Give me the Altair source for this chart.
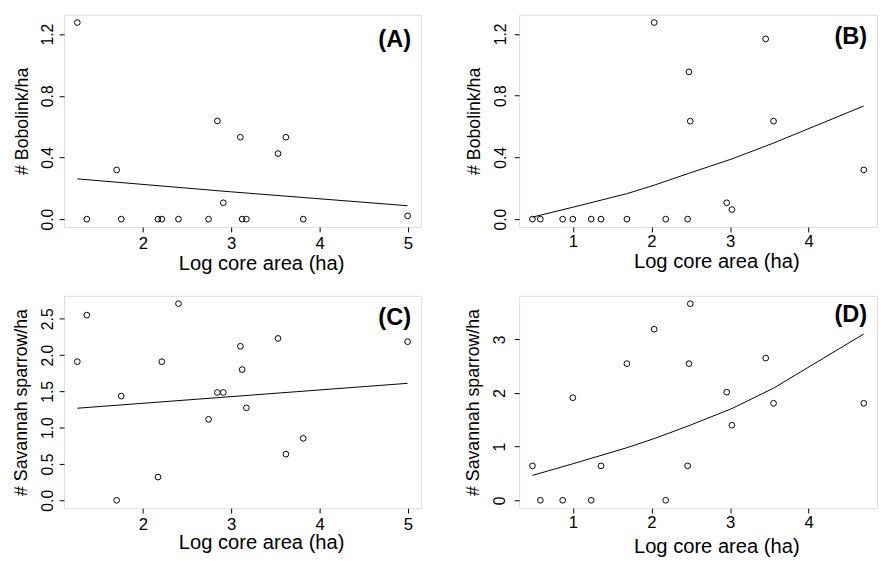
import altair as alt
import pandas as pd

# ---- data ----
x_left = [1.259, 1.367, 1.704, 1.756, 2.172, 2.215, 2.404, 2.744, 2.844, 2.911,
          3.104, 3.124, 3.172, 3.530, 3.619, 3.815, 4.996]
bobolink_left = [1.275, 0, 0.319, 0, 0, 0, 0, 0, 0.637, 0.106,
                 0.531, 0, 0, 0.425, 0.531, 0, 0.021]
sparrow_left = [1.909, 2.55, 0, 1.435, 0.32, 1.909, 2.708, 1.115, 1.485, 1.485,
                2.121, 1.80, 1.273, 2.229, 0.636, 0.853, 2.184]

x_right = [0.487, 0.587, 0.871, 1.0, 1.234, 1.359, 1.688, 2.035, 2.181, 2.460,
           2.477, 2.494, 2.957, 3.023, 3.453, 3.553, 4.700]
bobolink_right = [0, 0, 0, 0, 0, 0, 0, 1.274, 0, 0,
                  0.954, 0.635, 0.106, 0.062, 1.168, 0.635, 0.319]
sparrow_right = [0.641, 0, 0, 1.912, 0, 0.641, 2.547, 3.189, 0, 0.641,
                 2.547, 3.665, 2.016, 1.399, 2.651, 1.808, 1.808]

fit_a_x = [1.259, 3.0, 4.996]
fit_a_y = [0.261, 0.177, 0.087]
fit_c_x = [1.259, 4.996]
fit_c_y = [1.268, 1.611]
fit_bd_x = [0.487, 1.0, 1.688, 2.035, 2.494, 3.023, 3.553, 4.700]
fit_b_y = [0.013, 0.077, 0.165, 0.22, 0.30, 0.39, 0.493, 0.733]
fit_d_y = [0.464, 0.68, 0.98, 1.15, 1.40, 1.71, 2.09, 3.10]

FONT = "Liberation Sans"
XTITLE = "Log core area (ha)"


def panel(xs, ys, fx, fy, xdom, ydom, xticks, yticks, ylabels, yfmt, ytitle,
          letter, width, height, ylab_pad, ytitle_x, xlab_pad, xtitle_y,
          letter_y):
    pts = pd.DataFrame({"x": xs, "y": ys})
    fit = pd.DataFrame({"x": fx, "y": fy})
    lab_list = "[" + ",".join("'" + s + "'" for s in ylabels) + "]"
    yexpr = ("indexof(%s, format(datum.value, '%s')) >= 0 ? format(datum.value, '%s') : ''"
             % (lab_list, yfmt, yfmt))
    xaxis = alt.Axis(values=xticks, format="d", grid=False, domain=False,
                     tickSize=5, tickColor="black", labelColor="black",
                     labelFont=FONT, labelFontSize=17, labelPadding=xlab_pad,
                     labelBaseline="top", labelFlush=False, labelOverlap=False,
                     title=XTITLE, titleFont=FONT, titleFontSize=20.5,
                     titleFontWeight="normal", titleColor="black",
                     titleBaseline="alphabetic", titleAlign="center",
                     titleX=200.5, titleY=xtitle_y)
    yaxis = alt.Axis(values=yticks, labelExpr=yexpr, grid=False, domain=False,
                     tickSize=5, tickColor="black", labelColor="black",
                     labelFont=FONT, labelFontSize=16, labelPadding=ylab_pad,
                     labelAngle=270, labelAlign="center",
                     labelBaseline="alphabetic", labelFlush=False,
                     labelOverlap=False,
                     title=ytitle, titleFont=FONT, titleFontSize=18,
                     titleFontWeight="normal", titleColor="black",
                     titleAngle=270, titleAlign="center",
                     titleBaseline="alphabetic", titleX=ytitle_x,
                     titleY=height / 2)
    xenc = alt.X("x:Q", scale=alt.Scale(domain=xdom, nice=False, zero=False),
                 axis=xaxis)
    yenc = alt.Y("y:Q", scale=alt.Scale(domain=ydom, nice=False, zero=False),
                 axis=yaxis)
    points = alt.Chart(pts).mark_point(shape="circle", filled=False,
                                       color="black", size=34,
                                       strokeWidth=1, opacity=1).encode(
        x=xenc, y=yenc)
    line = alt.Chart(fit).mark_line(color="black", strokeWidth=1).encode(
        x="x:Q", y="y:Q")
    txt = alt.Chart(pd.DataFrame({"t": [letter]})).mark_text(
        font=FONT, fontSize=24, fontWeight="bold", align="right",
        baseline="alphabetic", color="black").encode(
        text="t:N", x=alt.value(width - 10), y=alt.value(letter_y))
    return alt.layer(points, line, txt).properties(width=width, height=height)


W_L, W_R, H = 363, 364, 216

pA = panel(x_left, bobolink_left, fit_a_x, fit_a_y, [1.109, 5.146],
           [-0.051, 1.326], [2, 3, 4, 5],
           [0, 0.2, 0.4, 0.6, 0.8, 1.0, 1.2], ["0.0", "0.4", "0.8", "1.2"],
           ".1f", "# Bobolink/ha", "(A)", W_L, H, 7, -37, 4, 43, 33)
pC = panel(x_left, sparrow_left, fit_c_x, fit_c_y, [1.109, 5.146],
           [-0.108, 2.816], [2, 3, 4, 5],
           [0, 0.5, 1.0, 1.5, 2.0, 2.5],
           ["0.0", "0.5", "1.0", "1.5", "2.0", "2.5"],
           ".1f", "# Savannah sparrow/ha", "(C)", W_L, H, 7, -38, 4, 41, 29.5)
pB = panel(x_right, bobolink_right, fit_bd_x, fit_b_y, [0.318, 4.869],
           [-0.051, 1.325], [1, 2, 3, 4],
           [0, 0.2, 0.4, 0.6, 0.8, 1.0, 1.2], ["0.0", "0.4", "0.8", "1.2"],
           ".1f", "# Bobolink/ha", "(B)", W_R, H, 9, -40, 2, 41, 30)
pD = panel(x_right, sparrow_right, fit_bd_x, fit_d_y, [0.318, 4.869],
           [-0.147, 3.812], [1, 2, 3, 4],
           [0, 1, 2, 3], ["0", "1", "2", "3"],
           "d", "# Savannah sparrow/ha", "(D)", W_R, H, 9.5, -41, 2, 45, 27)

chart = alt.concat(pA, pB, pC, pD, columns=2,
                   spacing={"row": 70, "column": 100}, bounds="flush").properties(
    padding={"left": 4, "top": 1, "right": 0, "bottom": 0}
).configure_view(stroke="#333333", strokeWidth=1).configure(
    background="white")

chart.save("out.html", embed_options={"renderer": "svg", "actions": False})
